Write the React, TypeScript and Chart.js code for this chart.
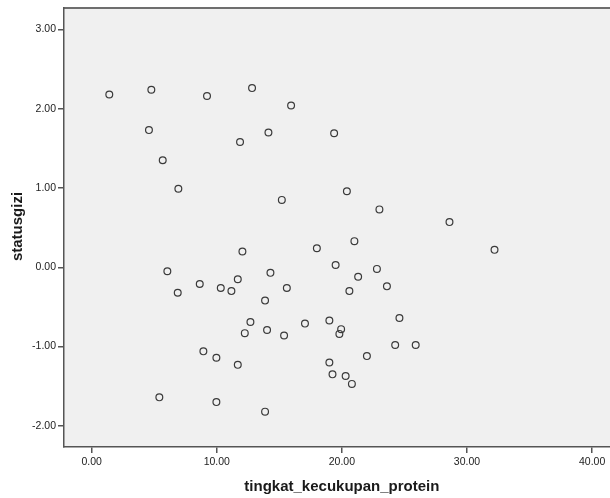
import React, { useEffect, useRef } from "react";
import { Chart, registerables } from "chart.js";

Chart.register(...registerables);

const proteinValues = [
  1.41, 4.77, 9.22, 12.82, 15.94, 4.58, 11.86, 14.13, 5.68, 6.93, 15.2,
  19.38, 20.4, 23.0, 28.6, 21.0, 18.0, 32.2, 12.05, 6.05, 14.29, 6.88,
  8.64, 10.32, 11.17, 11.68, 15.6, 13.86, 12.69, 12.24, 14.02, 15.38,
  17.05, 8.93, 9.97, 11.68, 5.41, 9.97, 13.86, 19.5, 22.8, 21.3, 23.6,
  20.6, 24.6, 19.0, 19.94, 19.8, 24.26, 25.9, 22.0, 19.0, 19.25, 20.3, 20.8,
];
const statusGiziValues = [
  2.18, 2.24, 2.16, 2.26, 2.04, 1.73, 1.58, 1.7, 1.35, 0.99, 0.85,
  1.69, 0.96, 0.73, 0.57, 0.33, 0.24, 0.22, 0.2, -0.05, -0.07, -0.32,
  -0.21, -0.26, -0.3, -0.15, -0.26, -0.42, -0.69, -0.83, -0.79, -0.86,
  -0.71, -1.06, -1.14, -1.23, -1.64, -1.7, -1.82, 0.03, -0.02, -0.12, -0.24,
  -0.3, -0.64, -0.67, -0.78, -0.84, -0.98, -0.98, -1.12, -1.2, -1.35, -1.37, -1.47,
];
const xTicks = [0, 10, 20, 30, 40];
const yTicks = [-2, -1, 0, 1, 2, 3];
const xTitle = "tingkat_kecukupan_protein";
const yTitle = "statusgizi";

const FONT = "'Liberation Sans', Arial, sans-serif";

const framePlugin = {
  id: "frame",
  beforeDraw(chart: any) {
    const { ctx, chartArea } = chart;
    ctx.save();
    ctx.fillStyle = "#f0f0f0";
    ctx.fillRect(chartArea.left, chartArea.top, chartArea.right - chartArea.left, chartArea.bottom - chartArea.top);
    ctx.strokeStyle = "#6e6e6e";
    ctx.lineWidth = 2;
    ctx.beginPath();
    ctx.moveTo(chartArea.left, chartArea.top);
    ctx.lineTo(chartArea.right, chartArea.top);
    ctx.stroke();
    ctx.restore();
  },
  afterDraw(chart: any) {
    const { ctx } = chart;
    const xs = chart.scales.x;
    ctx.save();
    ctx.fillStyle = "#1a1a1a";
    ctx.font = `bold 15px ${FONT}`;
    ctx.textAlign = "center";
    ctx.textBaseline = "middle";
    ctx.fillText(xTitle, xs.getPixelForValue(20), 487);
    ctx.translate(18, (chart.chartArea.top + chart.chartArea.bottom) / 2 - 1);
    ctx.rotate(-Math.PI / 2);
    ctx.fillText(yTitle, 0, 0);
    ctx.restore();
  },
};

export default function App() {
  const ref = useRef<HTMLCanvasElement>(null);
  useEffect(() => {
    if (!ref.current) return;
    const data = proteinValues.map((x, i) => ({ x, y: statusGiziValues[i] }));
    const chart = new Chart(ref.current, {
      type: "scatter",
      data: {
        datasets: [
          {
            data,
            pointRadius: 3.4,
            pointHoverRadius: 3.4,
            pointBorderWidth: 1.2,
            pointBorderColor: "#3a3a3a",
            pointBackgroundColor: "rgba(0,0,0,0)",
          },
        ],
      },
      options: {
        animation: false,
        responsive: false,
        maintainAspectRatio: false,
        layout: { autoPadding: false, padding: { top: 8, right: 0, left: 0, bottom: 0 } },
        plugins: { legend: { display: false }, tooltip: { enabled: false } },
        scales: {
          x: {
            type: "linear",
            min: -2.21,
            max: 41.43,
            afterBuildTicks: (s: any) => {
              s.ticks = xTicks.map((v) => ({ value: v }));
            },
            afterFit: (s: any) => {
              s.height = 51;
              s.paddingLeft = 0;
              s.paddingRight = 0;
            },
            grid: { drawOnChartArea: false, drawTicks: true, tickLength: 6, color: "#555", lineWidth: 1.5 },
            border: { display: true, color: "#555", width: 1.5 },
            ticks: {
              padding: 3,
              color: "#222",
              font: { family: FONT, size: 10.5 },
              maxRotation: 0,
              autoSkip: false,
              callback: (v: any) => Number(v).toFixed(2),
            },
          },
          y: {
            type: "linear",
            min: -2.266,
            max: 3.27,
            afterBuildTicks: (s: any) => {
              s.ticks = yTicks.map((v) => ({ value: v }));
            },
            afterFit: (s: any) => {
              s.width = 64;
              s.paddingTop = 0;
              s.paddingBottom = 0;
            },
            grid: { drawOnChartArea: false, drawTicks: true, tickLength: 6, color: "#555", lineWidth: 1.5 },
            border: { display: true, color: "#555", width: 1.5 },
            ticks: {
              padding: 2,
              color: "#222",
              font: { family: FONT, size: 10.5 },
              autoSkip: false,
              callback: (v: any) => Number(v).toFixed(2),
            },
          },
        },
      },
      plugins: [framePlugin],
    });
    return () => chart.destroy();
  }, []);
  return (
    <div style={{ position: "fixed", left: 0, top: 0, width: 610, height: 498, background: "#fff" }}>
      <canvas ref={ref} width={610} height={498} style={{ width: 610, height: 498, display: "block" }} />
    </div>
  );
}
